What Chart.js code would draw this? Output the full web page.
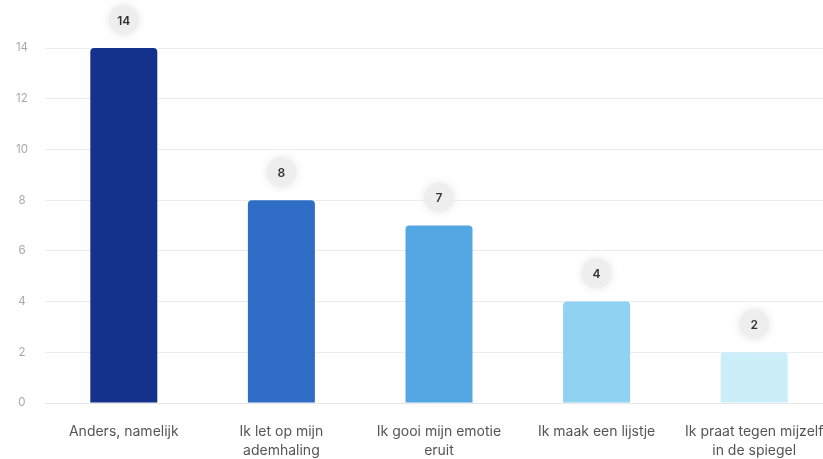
<!DOCTYPE html>
<html>
<head>
<meta charset="utf-8">
<script src="https://cdn.jsdelivr.net/npm/chart.js@4.4.1/dist/chart.umd.min.js"></script>
<style>
html,body{margin:0;padding:0;background:#fff;overflow:hidden;}
#wrap{position:relative;width:833px;height:459px;}
</style>
</head>
<body>
<div id="wrap"><canvas id="c"></canvas></div>
<script>
const categories = [
  "Anders, namelijk",
  ["Ik let op mijn", "ademhaling"],
  ["Ik gooi mijn emotie", "eruit"],
  "Ik maak een lijstje",
  ["Ik praat tegen mijzelf", "in de spiegel"]
];
const values = [14, 8, 7, 4, 2];
const barColors = ["#14318c", "#2f6cc6", "#52a6e2", "#8fd2f2", "#cbeef9"];
const yTicks = [0, 2, 4, 6, 8, 10, 12, 14];

const badgePlugin = {
  id: 'badges',
  afterDatasetsDraw(chart) {
    const ctx = chart.ctx;
    const meta = chart.getDatasetMeta(0);
    meta.data.forEach((bar, i) => {
      const x = bar.x, y = bar.y - 28;
      ctx.save();
      ctx.beginPath();
      ctx.arc(x, y, 15, 0, Math.PI * 2);
      ctx.fillStyle = 'rgba(238,238,238,0.9)';
      ctx.shadowColor = 'rgba(225,225,225,0.9)';
      ctx.shadowBlur = 8;
      ctx.fill();
      ctx.restore();
      ctx.save();
      ctx.fillStyle = '#333';
      ctx.font = '600 12px Inter, "Noto Sans", sans-serif';
      ctx.textAlign = 'center';
      ctx.textBaseline = 'middle';
      ctx.fillText(String(values[i]), x, y + 1);
      ctx.restore();
    });
  }
};

new Chart(document.getElementById('c'), {
  type: 'bar',
  data: {
    labels: categories,
    datasets: [{
      data: values,
      backgroundColor: barColors,
      borderRadius: {topLeft: 4, topRight: 4, bottomLeft: 0, bottomRight: 0},
      borderSkipped: 'bottom',
      barPercentage: 0.425,
      categoryPercentage: 1.0
    }]
  },
  options: {
    responsive: true,
    maintainAspectRatio: false,
    animation: false,
    layout: { padding: { top: 48, left: 0, right: 0, bottom: 0 } },
    plugins: { legend: { display: false }, tooltip: { enabled: false } },
    scales: {
      x: {
        afterFit(scale) { scale.height = 56; scale.paddingRight = 0; scale.paddingLeft = 0; },
        grid: { display: false, drawTicks: false },
        border: { display: true, color: '#e6e6e6' },
        ticks: {
          color: '#555',
          font: { family: 'Inter, "Noto Sans", sans-serif', size: 14, lineHeight: 1.3 },
          padding: 20,
          maxRotation: 0,
          autoSkip: false
        }
      },
      y: {
        min: 0, max: 14,
        afterFit(scale) { scale.width = 45; },
        afterBuildTicks(scale) { scale.ticks = yTicks.map(v => ({ value: v })); },
        grid: { color: '#ececec', drawTicks: false },
        border: { display: false },
        ticks: {
          color: '#a8a8a8',
          font: { family: 'Inter, "Noto Sans", sans-serif', size: 11.5 },
          crossAlign: 'center',
          padding: 17
        }
      }
    }
  },
  plugins: [badgePlugin]
});
</script>
</body>
</html>
